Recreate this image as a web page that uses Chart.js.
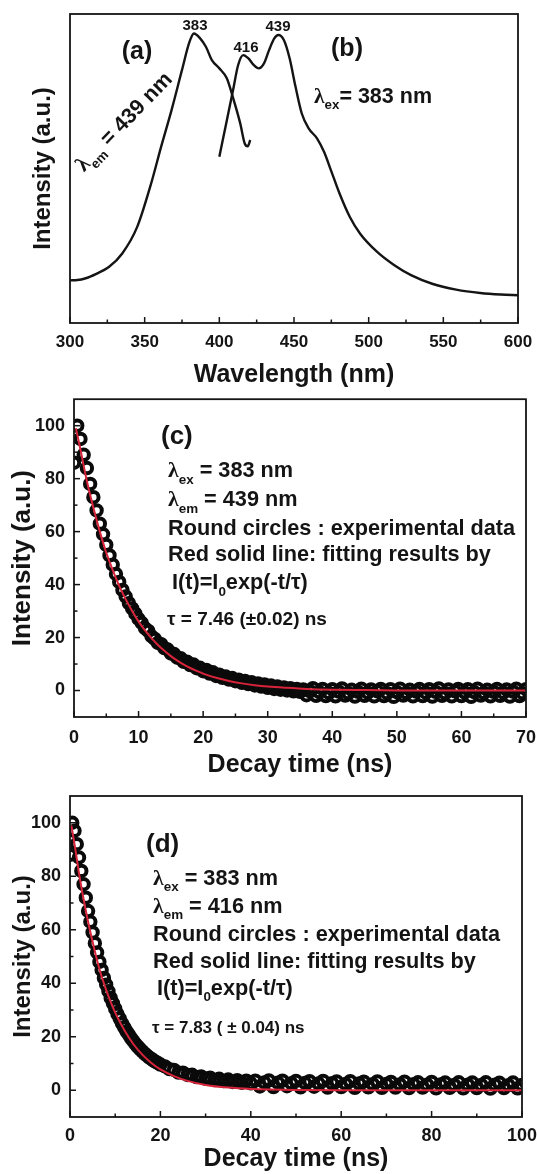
<!DOCTYPE html>
<html>
<head>
<meta charset="utf-8">
<script src="https://cdn.jsdelivr.net/npm/chart.js@4.4.0/dist/chart.umd.min.js"></script>
<style>
  html, body { margin: 0; padding: 0; background: #fff; }
  #wrap { position: relative; width: 537px; height: 1174px; overflow: hidden; }
  canvas { position: absolute; left: 0; }
</style>
</head>
<body>
<div id="wrap">
  <canvas id="spectra" width="537" height="390" style="top:0px"></canvas>
  <canvas id="decay439" width="537" height="390" style="top:390px"></canvas>
  <canvas id="decay416" width="537" height="394" style="top:780px"></canvas>
</div>
<script>
// ===== DATA =====
// (a) excitation spectrum, monitored at 439 nm
const excWavelength = [300, 305, 310, 318, 326, 335, 345, 354, 361, 368, 375, 380, 383, 387, 391, 395, 400, 405, 409, 414, 417, 419, 420.7];
const excIntensity  = [13.8, 13.9, 14.4, 16.0, 18.1, 22.5, 31.1, 44.6, 57.0, 68.9, 81.9, 91.0, 93.7, 92.2, 89.4, 85.1, 82.4, 79.2, 73.2, 64.6, 58.1, 57.2, 59.2];

// (b) emission spectrum, excited at 383 nm
const emWavelength = [400, 404.6, 409.2, 412.6, 416, 419.5, 423, 426.4, 429.9, 433.3, 436.8, 439.5, 443.2, 447.1, 451, 455.2, 459.8, 465.5, 470.1, 474.7, 480.5, 487.4, 494.3, 505.7, 517.2, 528.7, 542.5, 558.6, 574.7, 588.5, 600];
const emIntensity  = [53.8, 64.6, 75.4, 83.5, 86.7, 85.6, 83.5, 82.4, 84.0, 88.3, 92.1, 93.2, 91.6, 85.6, 76.5, 67.8, 63.0, 59.7, 55.4, 49.5, 41.9, 34.3, 28.9, 23.0, 18.7, 15.4, 12.7, 10.8, 9.7, 9.2, 9.0];
const wavelengthTicks = [300, 350, 400, 450, 500, 550, 600];

// (c) decay, emission at 439 nm
const decayTimeC = [0, 0.5, 1, 1.5, 2, 2.5, 3, 3.5, 4, 4.5, 5, 5.5, 6, 6.5, 7, 7.5, 8, 8.5, 9, 9.5,
  10, 10.5, 11, 11.5, 12, 12.5, 13, 13.5, 14, 14.5, 15, 15.5, 16, 16.5, 17, 17.5, 18, 18.5, 19, 19.5,
  20, 20.5, 21, 21.5, 22, 22.5, 23, 23.5, 24, 24.5, 25, 25.5, 26, 26.5, 27, 27.5, 28, 28.5, 29, 29.5,
  30, 30.5, 31, 31.5, 32, 32.5, 33, 33.5, 34, 34.5, 35,
  35.5, 36, 36.5, 37, 37.5, 38, 38.5, 39, 39.5, 40, 40.5, 41, 41.5, 42, 42.5, 43, 43.5, 44, 44.5, 45,
  45.5, 46, 46.5, 47, 47.5, 48, 48.5, 49, 49.5, 50, 50.5, 51, 51.5, 52, 52.5, 53, 53.5, 54, 54.5, 55,
  55.5, 56, 56.5, 57, 57.5, 58, 58.5, 59, 59.5, 60, 60.5, 61, 61.5, 62, 62.5, 63, 63.5, 64, 64.5, 65,
  65.5, 66, 66.5, 67, 67.5, 68, 68.5, 69, 69.5, 70];
const decayDataC = [86, 100, 95, 89, 84, 78, 73, 68, 63, 59, 55, 51, 47.5, 44, 41, 38, 35.5, 33, 31, 29,
  27, 25.5, 23.5, 22.5, 20.5, 19.5, 18, 17.5, 16, 15.5, 14, 13.8, 12.4, 12.2, 10.8, 10.9, 9.6, 9.8, 8.4, 8.6,
  7.3, 7.8, 6.4, 6.9, 5.5, 6.0, 4.8, 5.3, 4.1, 4.7, 3.5, 4.1, 2.9, 3.6, 2.4, 3.1, 1.9, 2.7, 1.5, 2.3,
  1.0, 1.9, 0.6, 1.5, 0.3, 1.2, 0.0, 0.9, -0.3, 0.6, -0.5,
  0.4, -1.8, -0.2, 0.9, -2.0, -0.6, 0.6, -2.1, -0.9, 0.5, -2.2, -0.4, 0.8, -1.9, -1.0, 0.3, -2.3, -0.5, 0.7, -2.0,
  -0.8, 0.4, -2.2, -0.3, 0.6, -2.1, -1.0, 0.5, -2.4, -0.6, 0.7, -1.9, -0.9, 0.3, -2.2, -0.4, 0.6, -2.1, -0.8, 0.5,
  -2.3, -0.5, 0.8, -2.0, -1.0, 0.4, -2.2, -0.3, 0.6, -2.1, -0.7, 0.5, -2.4, -0.6, 0.7, -1.9, -0.9, 0.3, -2.2, -0.5,
  0.6, -2.0, -0.8, 0.4, -2.3, -0.4, 0.7, -2.1, -1.0, 0.5];
const fitTimeC = [0.3, 1, 2, 3, 4, 5, 6, 7, 8, 9, 10, 11, 12, 13, 14, 15, 16, 17, 18, 19, 20, 22, 24, 26, 28, 30, 33, 36, 40, 45, 50, 60, 70];
const fitDataC = [99, 91, 79, 69, 60, 52, 45.5, 39.5, 34.5, 30, 26, 22.7, 19.8, 17.2, 15, 13, 11.3, 9.8, 8.5, 7.4, 6.4, 4.8, 3.6, 2.7, 2.0, 1.5, 1.0, 0.6, 0.3, 0.15, 0.05, 0, 0];
const decayTicksC = [0, 10, 20, 30, 40, 50, 60, 70];

// (d) decay, emission at 416 nm
const decayTimeD = [0, 0.5, 1, 1.5, 2, 2.5, 3, 3.5, 4, 4.5, 5, 5.5, 6, 6.5, 7, 7.5, 8, 8.5, 9, 9.5,
  10, 10.5, 11, 11.5, 12, 12.5, 13, 13.5, 14, 14.5, 15, 15.5, 16, 16.5, 17, 17.5, 18, 18.5, 19, 19.5, 20,
  21, 22, 23, 24, 25, 26, 27, 28, 29, 30, 31, 32, 33, 34, 35, 36, 37, 38, 39, 40,
  41, 42, 43, 44, 45, 46, 47, 48, 49, 50, 51, 52, 53, 54, 55, 56, 57, 58, 59, 60,
  61, 62, 63, 64, 65, 66, 67, 68, 69, 70, 71, 72, 73, 74, 75, 76, 77, 78, 79, 80,
  81, 82, 83, 84, 85, 86, 87, 88, 89, 90, 91, 92, 93, 94, 95, 96, 97, 98, 99, 100];
const decayDataD = [88, 100, 97, 92, 87, 82, 77, 72, 67, 63, 59, 55, 51.5, 48, 45, 42, 39.5, 37, 34.5, 32.5,
  30.5, 28.5, 26.8, 25, 23.5, 22, 20.8, 19.5, 18.4, 17.3, 16.3, 15.4, 14.5, 13.7, 13, 12.3, 11.7, 11.1, 10.6, 10.1, 9.6,
  8.9, 7.9, 7.6, 6.6, 6.6, 5.7, 5.8, 4.9, 5.2, 4.3, 4.7, 3.8, 4.3, 3.4, 4.0, 3.1, 3.8, 2.8, 3.6, 2.6,
  3.6, 1.4, 2.9, 3.7, 1.2, 2.8, 3.6, 1.5, 2.6, 3.5, 1.1, 2.7, 3.4, 1.3, 2.5, 3.5, 1.0, 2.6, 3.3, 1.2,
  2.4, 3.4, 0.9, 2.5, 3.2, 1.1, 2.3, 3.3, 0.9, 2.4, 3.1, 1.0, 2.2, 3.2, 0.8, 2.3, 3.0, 1.0, 2.1, 3.1,
  0.7, 2.2, 2.9, 0.9, 2.0, 3.0, 0.7, 2.1, 2.9, 0.8, 2.0, 3.0, 0.6, 2.1, 2.8, 0.8, 1.9, 2.9, 0.7, 2.0];
const fitTimeD = [0.3, 1, 2, 3, 4, 5, 6, 7, 8, 9, 10, 12, 14, 16, 18, 20, 23, 26, 30, 35, 40, 50, 60, 80, 100];
const fitDataD = [99, 92, 81, 71.5, 63, 55.5, 48.5, 42.5, 37.5, 33, 29, 22.5, 17.3, 13.3, 10.2, 7.8, 5.3, 3.5, 2.0, 1.0, 0.5, 0.1, 0, 0, 0];
const decayTicksD = [0, 20, 40, 60, 80, 100];

const intensityTicks = [0, 20, 40, 60, 80, 100];

// ===== STYLE =====
const FONT = "'Liberation Sans', Arial, sans-serif";
const INK = "#141414";
const FIT_RED = "#d8243a";
Chart.defaults.font.family = FONT;
Chart.defaults.color = INK;

const pts = (xs, ys) => xs.map((x, i) => ({ x, y: ys[i] }));

// ===== RICH TEXT (subscripts, greek) =====
function partFont(kind, size) {
  if (kind === "sub") return `bold ${size * 0.62}px ${FONT}`;
  if (kind === "greek") return `bold ${size}px 'Liberation Serif', serif`;
  return `bold ${size}px ${FONT}`;
}

function richWidth(ctx, parts, size) {
  let w = 0;
  parts.forEach(([txt, kind]) => {
    ctx.font = partFont(kind, size);
    w += ctx.measureText(txt).width;
  });
  return w;
}

function drawRich(ctx, t, x, y) {
  ctx.save();
  ctx.translate(x, y);
  if (t.rot) ctx.rotate(t.rot * Math.PI / 180);
  let cx = t.align === "center" ? -richWidth(ctx, t.parts, t.size) / 2 : 0;
  const base = t.size * 0.36;
  ctx.textBaseline = "alphabetic";
  ctx.textAlign = "left";
  ctx.fillStyle = INK;
  t.parts.forEach(([txt, kind]) => {
    ctx.font = partFont(kind, t.size);
    ctx.fillText(txt, cx, kind === "sub" ? base + t.size * 0.3 : base);
    cx += ctx.measureText(txt).width;
  });
  ctx.restore();
}

// ===== FRAME, INWARD TICKS, ANNOTATIONS =====
const figDecor = {
  id: "figDecor",
  afterDraw(chart, args, opts) {
    const { ctx, chartArea: a, scales: { x, y } } = chart;
    ctx.save();
    ctx.strokeStyle = INK;
    ctx.lineWidth = 1.8;
    ctx.strokeRect(a.left, a.top, a.right - a.left, a.bottom - a.top);

    const tickLine = (x1, y1, x2, y2) => {
      ctx.beginPath(); ctx.moveTo(x1, y1); ctx.lineTo(x2, y2); ctx.stroke();
    };
    ctx.lineWidth = 1.5;
    const xs = x.ticks.map(t => t.value);
    xs.forEach((v, i) => {
      const px = x.getPixelForValue(v);
      tickLine(px, a.bottom, px, a.bottom - 6);
      if (i > 0) {
        const mx = x.getPixelForValue((v + xs[i - 1]) / 2);
        tickLine(mx, a.bottom, mx, a.bottom - 3.5);
      }
    });
    if (opts.yTicks) {
      const ys = y.ticks.map(t => t.value);
      ys.forEach((v, i) => {
        const py = y.getPixelForValue(v);
        tickLine(a.left, py, a.left + 6, py);
        if (i > 0) {
          const my = y.getPixelForValue((v + ys[i - 1]) / 2);
          tickLine(a.left, my, a.left + 3.5, my);
        }
      });
    }

    (opts.texts || []).forEach(t => drawRich(ctx, t, a.left + t.dx, a.top + t.dy));
    ctx.restore();
  }
};

// ===== PANEL BUILDER =====
function buildPanel(id, p) {
  const canvas = document.getElementById(id);
  const H = canvas.height;
  return new Chart(canvas, {
    type: "scatter",
    data: { datasets: p.datasets },
    options: {
      responsive: false,
      animation: false,
      layout: { padding: { left: 0, top: p.area.top, right: 537 - p.area.right, bottom: 0 } },
      plugins: {
        legend: { display: false },
        tooltip: { enabled: false },
        figDecor: { yTicks: p.yTicks, texts: p.texts }
      },
      scales: {
        x: {
          type: "linear",
          min: p.xMin, max: p.xMax,
          afterBuildTicks: s => { s.ticks = p.xTicks.map(v => ({ value: v })); },
          afterFit: s => {
            s.height = H - p.area.bottom;
            s.paddingLeft = 0; s.paddingRight = 0;
          },
          grid: { display: false, drawTicks: false },
          border: { display: false },
          ticks: {
            autoSkip: false, maxRotation: 0, padding: p.xTickPad,
            font: { size: p.tickSize, weight: "bold" }, color: INK
          },
          title: {
            display: true, text: p.xTitle, color: INK,
            font: { size: 25, weight: "bold" }, padding: { top: 0, bottom: p.xTitlePad }
          }
        },
        y: {
          type: "linear",
          min: p.yMin, max: p.yMax,
          afterBuildTicks: s => { if (p.yTicks) s.ticks = p.yTicks.map(v => ({ value: v })); },
          afterFit: s => {
            s.width = p.area.left;
            s.paddingTop = 0; s.paddingBottom = 0;
          },
          grid: { display: false, drawTicks: false },
          border: { display: false },
          ticks: {
            display: !!p.yTicks, autoSkip: false, padding: 9,
            font: { size: p.tickSize, weight: "bold" }, color: INK
          },
          title: {
            display: true, text: "Intensity (a.u.)", color: INK,
            font: { size: p.yTitleSize, weight: "bold" }, padding: { top: p.yTitlePad, bottom: 0 }
          }
        }
      }
    },
    plugins: [figDecor]
  });
}

const curve = (xs, ys) => ({
  data: pts(xs, ys), showLine: true, pointRadius: 0, borderColor: INK, borderWidth: 2.4,
  cubicInterpolationMode: "monotone"
});
const fitLine = (xs, ys) => ({
  data: pts(xs, ys), showLine: true, pointRadius: 0, borderColor: FIT_RED, borderWidth: 2,
  cubicInterpolationMode: "monotone", order: 0
});
const circles = (xs, ys) => ({
  data: pts(xs, ys), showLine: false, pointRadius: 5.2, pointBorderWidth: 4,
  pointBorderColor: "#0a0a0a", pointBackgroundColor: "rgba(0,0,0,0)", order: 1
});

const lambda = (sub, rest) => [["λ", "greek"], [sub, "sub"], [rest]];
const decayLines = (em, tauText, tauSize, pos) => [
  { dx: pos.x - 7, dy: pos.y[0], size: 26, parts: [["(" + pos.tag + ")"]] },
  { dx: pos.x, dy: pos.y[1], size: 21.7, parts: lambda("ex", " = 383 nm") },
  { dx: pos.x, dy: pos.y[2], size: 21.7, parts: lambda("em", " = " + em + " nm") },
  { dx: pos.x, dy: pos.y[3], size: 21.7, parts: [["Round circles : experimental data"]] },
  { dx: pos.x, dy: pos.y[4], size: 21.7, parts: [["Red solid line: fitting results by"]] },
  { dx: pos.x + 4, dy: pos.y[5], size: 21.7, parts: [["I(t)=I"], ["0", "sub"], ["exp(-t/τ)"]] },
  { dx: pos.x - 1, dy: pos.y[6], size: tauSize, parts: [[tauText]] }
];

// ===== (a)/(b) SPECTRA =====
buildPanel("spectra", {
  area: { left: 70, right: 518, top: 14, bottom: 323 },
  xMin: 300, xMax: 600, xTicks: wavelengthTicks, xTickPad: 9, xTitle: "Wavelength (nm)", xTitlePad: 0,
  yMin: 0, yMax: 100, yTicks: null, yTitleSize: 24, yTitlePad: 28.6,
  tickSize: 17,
  datasets: [curve(excWavelength, excIntensity), curve(emWavelength, emIntensity)],
  texts: [
    { dx: 125, dy: 11, size: 15, align: "center", parts: [["383"]] },
    { dx: 208, dy: 12, size: 15, align: "center", parts: [["439"]] },
    { dx: 176, dy: 33, size: 15, align: "center", parts: [["416"]] },
    { dx: 67, dy: 36, size: 25, align: "center", parts: [["(a)"]] },
    { dx: 277, dy: 33, size: 25, align: "center", parts: [["(b)"]] },
    { dx: 244, dy: 81, size: 21.5, parts: lambda("ex", "= 383 nm") },
    { dx: 53, dy: 107, size: 21.5, align: "center", rot: -46, parts: lambda("em", " = 439 nm") }
  ]
});

// ===== (c) DECAY 439 nm =====
buildPanel("decay439", {
  area: { left: 74, right: 526, top: 8, bottom: 327 },
  xMin: 0, xMax: 70, xTicks: decayTicksC, xTickPad: 10, xTitle: "Decay time (ns)", xTitlePad: 0,
  yMin: -10, yMax: 110, yTicks: intensityTicks, yTitleSize: 26, yTitlePad: 7.4,
  tickSize: 18,
  datasets: [fitLine(fitTimeC, fitDataC), circles(decayTimeC, decayDataC)],
  texts: decayLines("439", "τ = 7.46 (±0.02) ns", 19, { tag: "c", x: 94, y: [35, 70, 99, 128, 154, 182, 219] })
});

// ===== (d) DECAY 416 nm =====
buildPanel("decay416", {
  area: { left: 70, right: 522, top: 16, bottom: 337 },
  xMin: 0, xMax: 100, xTicks: decayTicksD, xTickPad: 8, xTitle: "Decay time (ns)", xTitlePad: 0,
  yMin: -10, yMax: 110, yTicks: intensityTicks, yTitleSize: 24, yTitlePad: 8.6,
  tickSize: 18,
  datasets: [fitLine(fitTimeD, fitDataD), circles(decayTimeD, decayDataD)],
  texts: decayLines("416", "τ = 7.83 ( ± 0.04) ns", 17, { tag: "d", x: 83, y: [47, 81, 109, 137, 164, 191, 231] })
});
</script>
</body>
</html>
